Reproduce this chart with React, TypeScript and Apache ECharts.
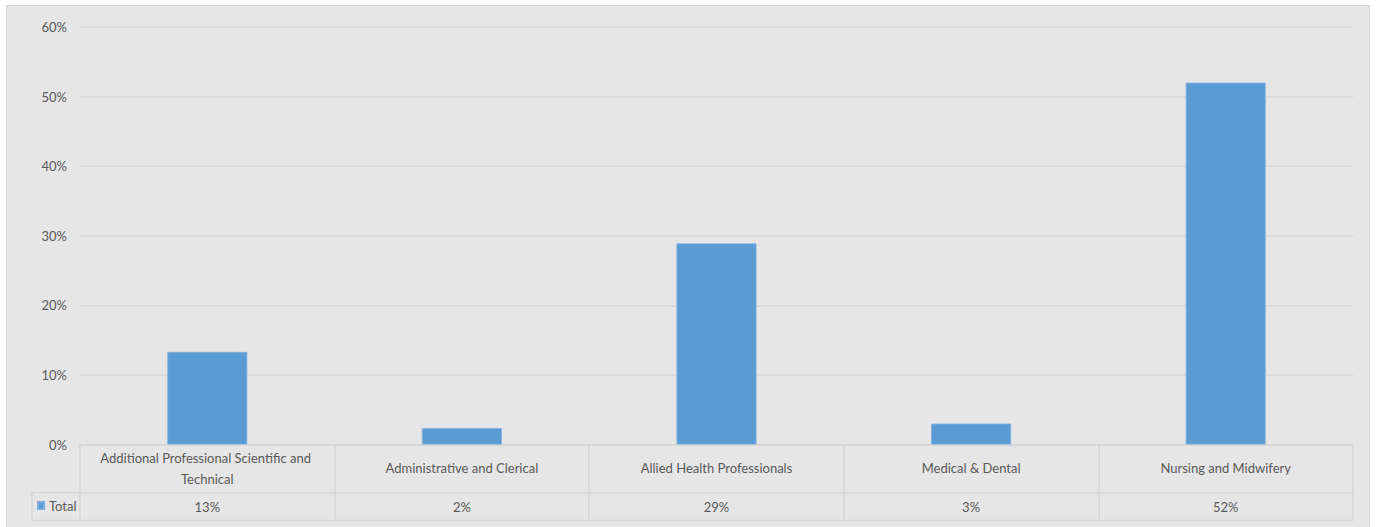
import React, { useEffect, useRef } from "react";
import * as echarts from "echarts";

// Share of staff by occupational group
const categories = [
  "Additional Professional Scientific and Technical",
  "Administrative and Clerical",
  "Allied Health Professionals",
  "Medical & Dental",
  "Nursing and Midwifery",
];
const totals = [0.133, 0.0235, 0.289, 0.03, 0.52];
const yTicks = [0, 0.1, 0.2, 0.3, 0.4, 0.5, 0.6];
const seriesName = "Total";

const FONT = "Lato, 'Open Sans', sans-serif";
const TEXT = "#595959";
const LINE = "#d6d6d6";
const FS = 13;

const pct = (v: number) => `${Math.round(v * 100)}%`;

export default function App() {
  const ref = useRef<HTMLDivElement>(null);

  useEffect(() => {
    if (!ref.current) return;
    const chart = echarts.init(ref.current, undefined, { renderer: "svg" });
    chart.setOption({
      animation: false,
      backgroundColor: "transparent",
      textStyle: { fontFamily: FONT },
      grid: { left: 80, right: 23, top: 27, bottom: 82.5, containLabel: false },
      legend: {
        show: true,
        data: [seriesName],
        left: 37,
        top: 499,
        icon: "rect",
        itemWidth: 6,
        itemHeight: 7,
        itemGap: 4,
        padding: 0,
        textStyle: { color: TEXT, fontSize: FS, fontFamily: FONT, padding: [0, 0, 0, 0] },
      },
      yAxis: {
        type: "value",
        min: yTicks[0],
        max: yTicks[yTicks.length - 1],
        interval: yTicks[1] - yTicks[0],
        axisLine: { show: false },
        axisTick: { show: false },
        axisLabel: {
          formatter: (v: number) => pct(v),
          color: TEXT,
          fontSize: FS,
          fontFamily: FONT,
          margin: 13,
        },
        splitLine: { lineStyle: { color: LINE, width: 1.5 } },
      },
      xAxis: [
        {
          type: "category",
          data: categories,
          boundaryGap: true,
          axisLine: { show: true, lineStyle: { color: LINE, width: 1.5 } },
          axisTick: {
            show: true,
            interval: 0,
            length: 76,
            lineStyle: { color: LINE, width: 1.5 },
          },
          axisLabel: {
            interval: 0,
            color: TEXT,
            fontSize: FS,
            fontFamily: FONT,
            width: 228,
            overflow: "break",
            lineHeight: 21,
            verticalAlign: "middle",
            margin: 23.5,
          },
        },
        {
          type: "category",
          data: totals.map(pct),
          position: "bottom",
          offset: 48,
          boundaryGap: true,
          axisLine: { show: true, lineStyle: { color: LINE, width: 1.5 } },
          axisTick: { show: false },
          axisLabel: {
            interval: 0,
            color: TEXT,
            fontSize: FS,
            fontFamily: FONT,
            verticalAlign: "middle",
            margin: 14,
          },
        },
      ],
      series: [
        {
          name: seriesName,
          type: "bar",
          xAxisIndex: 0,
          data: totals,
          barWidth: "31.4%",
          itemStyle: { color: "#5b9bd5", borderColor: "#7eaee0", borderWidth: 0.8 },
        },
      ],
      graphic: [
        {
          type: "polyline",
          silent: true,
          shape: {
            points: [
              [80, 492.5],
              [32, 492.5],
              [32, 520.5],
              [1353, 520.5],
            ],
          },
          style: { stroke: LINE, lineWidth: 1.5, fill: "none" },
        },
      ],
    });
    return () => chart.dispose();
  }, []);

  return (
    <div
      style={{
        position: "absolute",
        left: 0,
        top: 0,
        width: 1376,
        height: 527,
        background: "#ffffff",
        overflow: "hidden",
      }}
    >
      <div
        style={{
          position: "absolute",
          left: 6,
          top: 5,
          width: 1362,
          height: 530,
          background: "#e6e6e6",
          border: "1px solid #d9d9d9",
        }}
      />
      <div ref={ref} style={{ position: "absolute", left: 0, top: 0, width: 1376, height: 527 }} />
    </div>
  );
}
